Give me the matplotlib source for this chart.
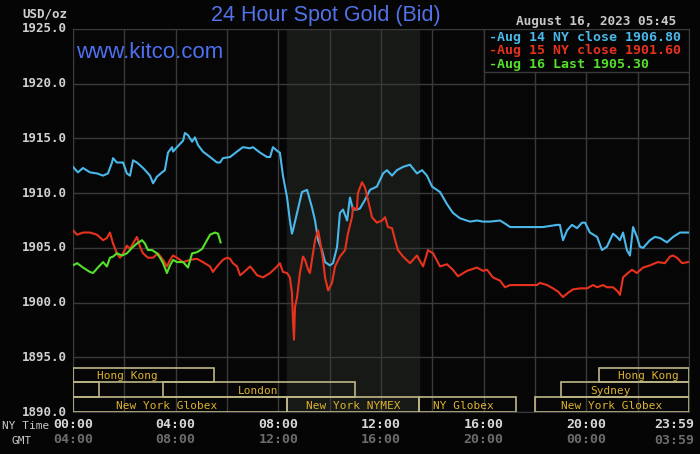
import matplotlib.pyplot as plt
from matplotlib.patches import Rectangle

# hours since 00:00 NY time, spot bid in USD/oz
aug14_t = [0.0, 0.19, 0.39, 0.66, 0.94, 1.17, 1.36, 1.52, 1.56, 1.71, 1.95, 2.10, 2.22, 2.34,
           2.49, 2.73, 3.00, 3.12, 3.27, 3.47, 3.58, 3.70, 3.86, 3.90, 4.05, 4.29, 4.36, 4.48,
           4.64, 4.75, 4.87, 5.06, 5.34, 5.61, 5.73, 5.84, 6.12, 6.39, 6.62, 6.90, 7.01, 7.29,
           7.56, 7.68, 7.79, 7.99, 8.06, 8.18, 8.34, 8.45, 8.53, 8.57, 8.73, 8.92, 9.12, 9.31,
           9.43, 9.55, 9.70, 9.82, 10.01, 10.13, 10.29, 10.40, 10.52, 10.68, 10.79, 10.91,
           11.06, 11.18, 11.38, 11.57, 11.84, 12.08, 12.23, 12.43, 12.62, 12.86, 13.13, 13.40,
           13.60, 13.79, 13.99, 14.30, 14.57, 14.80, 15.08, 15.47, 15.74, 15.97, 16.25, 16.64,
           16.91, 17.03, 18.08, 18.31, 18.86, 18.97, 19.09, 19.25, 19.44, 19.64, 19.83, 19.95,
           20.14, 20.42, 20.61, 20.80, 21.04, 21.19, 21.31, 21.43, 21.58, 21.70, 21.82, 21.97,
           22.09, 22.21, 22.48, 22.67, 22.87, 23.14, 23.38, 23.65, 23.97]
aug14_v = [1912.4, 1911.9, 1912.3, 1911.9, 1911.8, 1911.6, 1911.8, 1912.8, 1913.2, 1912.8,
           1912.8, 1911.8, 1911.6, 1913.0, 1912.8, 1912.3, 1911.6, 1910.9, 1911.5, 1911.9,
           1912.1, 1913.7, 1914.2, 1913.8, 1914.2, 1914.8, 1915.5, 1915.3, 1914.7, 1915.1,
           1914.4, 1913.8, 1913.3, 1912.8, 1912.8, 1913.2, 1913.3, 1913.8, 1914.2, 1914.1,
           1914.2, 1913.7, 1913.3, 1913.3, 1914.2, 1913.8, 1913.7, 1911.6, 1909.6, 1907.5,
           1906.3, 1906.6, 1908.2, 1910.1, 1910.3, 1908.7, 1907.5, 1905.7, 1904.8, 1903.7,
           1903.4, 1903.6, 1905.1, 1908.2, 1908.5, 1907.5, 1909.6, 1908.5, 1908.5, 1908.6,
           1909.4, 1910.3, 1910.6, 1911.8, 1912.1, 1911.6, 1912.1, 1912.4, 1912.6, 1911.8,
           1912.1, 1911.6, 1910.6, 1910.1, 1909.0, 1908.2, 1907.7, 1907.4, 1907.5, 1907.4,
           1907.4, 1907.5, 1907.1, 1906.9, 1906.9, 1906.9, 1907.1, 1907.1, 1905.7, 1906.6,
           1907.1, 1906.8, 1907.3, 1907.3, 1906.4, 1906.0, 1904.8, 1905.1, 1906.3, 1906.0,
           1905.7, 1906.4, 1904.8, 1904.3, 1906.9, 1906.0, 1905.1, 1905.0, 1905.7, 1906.0,
           1905.9, 1905.5, 1906.0, 1906.4, 1906.4]

aug15_t = [0.0, 0.16, 0.39, 0.66, 0.94, 1.17, 1.32, 1.44, 1.56, 1.71, 1.83, 1.95, 2.10, 2.22,
           2.34, 2.49, 2.61, 2.73, 2.92, 3.12, 3.31, 3.51, 3.66, 3.78, 3.90, 4.05, 4.29, 4.56,
           4.83, 5.06, 5.34, 5.45, 5.61, 5.84, 6.00, 6.12, 6.23, 6.39, 6.51, 6.62, 6.90, 7.01,
           7.17, 7.40, 7.68, 7.95, 8.06, 8.18, 8.34, 8.45, 8.53, 8.57, 8.61, 8.65, 8.73, 8.84,
           8.96, 9.04, 9.16, 9.23, 9.31, 9.43, 9.55, 9.62, 9.74, 9.82, 9.94, 10.09, 10.21,
           10.40, 10.60, 10.71, 10.87, 10.91, 11.06, 11.10, 11.26, 11.38, 11.49, 11.65, 11.84,
           12.04, 12.16, 12.27, 12.43, 12.55, 12.66, 12.86, 13.13, 13.40, 13.64, 13.83, 14.03,
           14.30, 14.57, 14.80, 15.00, 15.35, 15.74, 15.97, 16.13, 16.36, 16.64, 16.83, 17.03,
           18.08, 18.19, 18.47, 18.70, 18.90, 19.09, 19.29, 19.48, 19.75, 20.03, 20.26, 20.42,
           20.65, 20.80, 21.04, 21.23, 21.31, 21.43, 21.62, 21.78, 21.97, 22.21, 22.48, 22.79,
           23.06, 23.26, 23.38, 23.53, 23.73, 23.96]
aug15_v = [1906.6, 1906.2, 1906.4, 1906.4, 1906.2, 1905.7, 1905.9, 1906.4, 1905.4, 1904.5,
           1904.1, 1904.5, 1905.2, 1904.9, 1905.4, 1906.0, 1905.1, 1904.5, 1904.1, 1904.1,
           1904.5, 1903.9, 1903.3, 1903.9, 1904.3, 1904.1, 1903.7, 1903.9, 1904.0, 1903.7,
           1903.3, 1902.8, 1903.3, 1903.9, 1904.1, 1904.0, 1903.6, 1903.3, 1902.5, 1902.7,
           1903.3, 1903.0, 1902.5, 1902.3, 1902.7, 1903.3, 1903.6, 1902.8, 1902.7, 1902.3,
           1900.9, 1898.4, 1896.6, 1899.6, 1900.5, 1902.7, 1904.2, 1903.9, 1903.0, 1902.7,
           1903.9, 1905.7, 1906.6, 1905.7, 1903.9, 1902.3, 1901.1, 1901.8, 1903.3, 1904.2,
           1904.8, 1906.3, 1907.8, 1908.7, 1908.5, 1910.0, 1911.0, 1910.5, 1909.4, 1907.8,
           1907.3, 1907.5, 1907.8, 1906.9, 1906.8, 1905.7, 1904.8, 1904.2, 1903.6, 1904.3,
           1903.3, 1904.8, 1904.5, 1903.3, 1903.5, 1903.0, 1902.4, 1902.9, 1903.2, 1902.9,
           1903.0, 1902.3, 1902.0, 1901.4, 1901.6, 1901.6, 1901.8, 1901.6, 1901.3, 1901.0,
           1900.5, 1900.9, 1901.2, 1901.3, 1901.3, 1901.6, 1901.4, 1901.6, 1901.4, 1901.4,
           1901.0, 1900.7, 1902.3, 1902.7, 1903.0, 1902.7, 1903.2, 1903.4, 1903.7, 1903.6,
           1904.2, 1904.3, 1904.1, 1903.6, 1903.7]

aug16_t = [0.0, 0.16, 0.39, 0.66, 0.78, 0.97, 1.17, 1.32, 1.44, 1.56, 1.71, 1.91, 2.10, 2.30,
           2.49, 2.69, 2.80, 2.92, 3.08, 3.27, 3.39, 3.51, 3.66, 3.78, 3.90, 4.05, 4.29, 4.48,
           4.64, 4.83, 5.03, 5.22, 5.34, 5.53, 5.65, 5.75]
aug16_v = [1903.4, 1903.6, 1903.2, 1902.8, 1902.7, 1903.2, 1903.7, 1903.3, 1904.1, 1904.2,
           1904.5, 1904.3, 1904.5, 1905.0, 1905.4, 1905.7, 1905.4, 1904.8, 1904.8, 1904.5,
           1904.1, 1903.6, 1902.7, 1903.4, 1903.9, 1903.7, 1903.7, 1903.2, 1904.5, 1904.6,
           1904.9, 1905.7, 1906.2, 1906.4, 1906.3, 1905.5]

legend_labels = ["Aug 14 NY close 1906.80", "Aug 15 NY close 1901.60", "Aug 16 Last 1905.30"]
line_colors = ["#4ab8ea", "#e8321e", "#55e02c"]

y_ticks = [1890, 1895, 1900, 1905, 1910, 1915, 1920, 1925]
ny_ticks = [0, 4, 8, 12, 16, 20]
ny_labels = ["00:00", "04:00", "08:00", "12:00", "16:00", "20:00"]
gmt_labels = ["04:00", "08:00", "12:00", "16:00", "20:00", "00:00"]

comex_hours = (8.33, 13.5)

# (row, start, end, label, label position)
sessions = [
    (2, 0.0, 5.5, "Hong Kong", 2.1),
    (2, 20.5, 24.0, "Hong Kong", 22.4),
    (1, 0.0, 1.0, "", 0),
    (1, 3.5, 11.0, "London", 7.2),
    (1, 19.0, 24.0, "Sydney", 20.95),
    (0, 0.0, 8.33, "New York Globex", 3.65),
    (0, 8.33, 13.5, "New York NYMEX", 10.9),
    (0, 13.5, 17.25, "NY Globex", 15.2),
    (0, 18.0, 24.0, "New York Globex", 21.0),
]

mono = "DejaVu Sans Mono"
bg = "#050505"

fig = plt.figure(figsize=(7, 4.54), dpi=100, facecolor=bg)
ax = fig.add_axes([73 / 700, 42 / 454, 616 / 700, 383 / 454])
ax.set_facecolor("#060606")
ax.set_xlim(0, 24)
ax.set_ylim(1890, 1925)

ax.axvspan(*comex_hours, color="#161916", zorder=0)
for h in range(0, 25, 2):
    ax.axvline(h, color="#3a3a3a", lw=1, zorder=1)
for v in y_ticks:
    ax.axhline(v, color="#3a3a3a", lw=1, zorder=1)

for sp in ax.spines.values():
    sp.set_color("#3a3a3a")
ax.set_xticks([])
ax.set_yticks([])

for t, v, c in [(aug14_t, aug14_v, line_colors[0]),
                (aug15_t, aug15_v, line_colors[1]),
                (aug16_t, aug16_v, line_colors[2])]:
    ax.plot(t, v, color=c, lw=1.5, zorder=3)

# trading session boxes along the bottom
row_h = 1.35
for row, t0, t1, label, tx in sessions:
    y0 = 1890 + row * row_h
    ax.add_patch(Rectangle((t0, y0), t1 - t0, row_h, fill=False,
                           edgecolor="#bdb786", lw=1.2, zorder=4))
    if label:
        ax.text(tx, y0 + row_h / 2 - 0.1, label, color="#dcb22e", fontsize=8,
                family=mono, ha="center", va="center", zorder=5)

# legend box top right
ax.add_patch(Rectangle((0.667, 0.888), 0.333, 0.112, transform=ax.transAxes,
                       facecolor="#050505", edgecolor="#3a3a3a", lw=1, zorder=6))
for i, (lab, c) in enumerate(zip(legend_labels, line_colors)):
    ax.text(0.676, 0.979 - i * 0.036, "-" + lab, transform=ax.transAxes, color=c,
            fontsize=9.5, family=mono, fontweight="bold", ha="left", va="center", zorder=7)

# axis labels
for v in y_ticks:
    ax.text(-0.01, v, f"{v:.1f}", transform=ax.get_yaxis_transform(), color="#d0d0d0",
            fontsize=9, family=mono, fontweight="bold", ha="right", va="center")
fig.text(67 / 700, 1 - 14 / 454, "USD/oz", color="#d0d0d0", fontsize=9, family=mono,
         fontweight="bold", ha="right", va="center")

for h, ny, gmt in zip(ny_ticks, ny_labels, gmt_labels):
    ax.text(h, -0.033, ny, transform=ax.get_xaxis_transform(), color="#d8d8d8",
            fontsize=9.5, family=mono, fontweight="bold", ha="center", va="center")
    ax.text(h, -0.072, gmt, transform=ax.get_xaxis_transform(), color="#6c6c6c",
            fontsize=9.5, family=mono, fontweight="bold", ha="center", va="center")
fig.text(694 / 700, 1 - 425 / 454, "23:59", color="#d8d8d8", fontsize=9.5, family=mono,
         fontweight="bold", ha="right", va="center")
fig.text(694 / 700, 1 - 441 / 454, "03:59", color="#6c6c6c", fontsize=9.5, family=mono,
         fontweight="bold", ha="right", va="center")
fig.text(2 / 700, 1 - 426 / 454, "NY Time", color="#c8c8c8", fontsize=8, family=mono,
         ha="left", va="center")
fig.text(12 / 700, 1 - 441 / 454, "GMT", color="#c8c8c8", fontsize=8, family=mono,
         ha="left", va="center")

fig.text(326 / 700, 1 - 16 / 454, "24 Hour Spot Gold (Bid)", color="#5272ea",
         fontsize=15.5, family="Liberation Sans", ha="center", va="center")
fig.text(76 / 700, 1 - 53 / 454, "www.kitco.com", color="#4e6ff0", fontsize=16,
         family="Liberation Sans", ha="left", va="center")
fig.text(676 / 700, 1 - 21 / 454, "August 16, 2023 05:45", color="#c8c8c8", fontsize=9.2,
         family=mono, fontweight="bold", ha="right", va="center")

fig.savefig("out.png", dpi=100, facecolor=bg)
